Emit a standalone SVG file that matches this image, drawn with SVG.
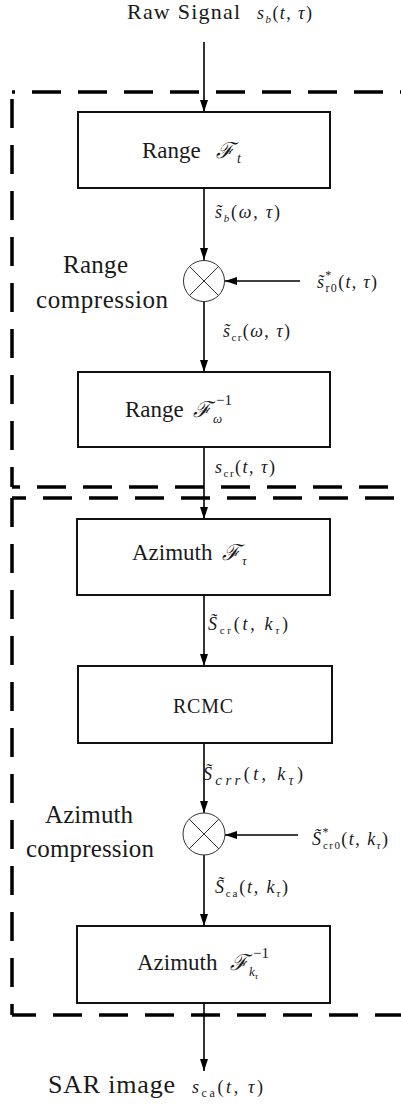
<svg xmlns="http://www.w3.org/2000/svg" width="401" height="1106" viewBox="0 0 401 1106">
<style>
.bg{fill:#fff}
.box{fill:#fff;stroke:#111;stroke-width:2}
.mul{fill:#fff;stroke:#333;stroke-width:1}
.x{stroke:#333;stroke-width:1}
.con{fill:none;stroke:#000;stroke-width:1.6}
.dash{fill:none;stroke:#000;stroke-width:3.5;stroke-dasharray:29 17}
text{font-family:'Liberation Serif',serif;fill:#1a1a1a}
.m{font-size:18px}
.i{font-style:italic}
.sc{font-family:'DejaVu Serif',serif;font-style:italic}
</style>
<defs>
<marker id="ah" markerUnits="userSpaceOnUse" markerWidth="13" markerHeight="9" refX="12" refY="4" orient="auto">
<path d="M0,0 L12,4 L0,8 z" fill="#000"/>
</marker>
</defs>
<rect class="bg" width="401" height="1106"/>

<g id="frames">
<line class="dash" x1="12" y1="92" x2="401" y2="92" stroke-dashoffset="26"/>
<line class="dash" x1="12" y1="487" x2="12" y2="92" stroke-dashoffset="9"/>
<line class="dash" x1="12" y1="487" x2="401" y2="487" stroke-dashoffset="21"/>
<line class="dash" x1="12" y1="498" x2="401" y2="498" stroke-dashoffset="15"/>
<line class="dash" x1="12" y1="498" x2="12" y2="1015" stroke-dashoffset="0"/>
<line class="dash" x1="12" y1="1015" x2="401" y2="1015" stroke-dashoffset="5"/>
</g>

<g id="connectors">
<line class="con" x1="204" y1="42" x2="204" y2="112" marker-end="url(#ah)"/>
<line class="con" x1="204" y1="188" x2="204" y2="260" marker-end="url(#ah)"/>
<line class="con" x1="300" y1="281" x2="225" y2="281" marker-end="url(#ah)"/>
<line class="con" x1="204" y1="301" x2="204" y2="372" marker-end="url(#ah)"/>
<line class="con" x1="204" y1="447" x2="204" y2="519" marker-end="url(#ah)"/>
<line class="con" x1="204" y1="595" x2="204" y2="666" marker-end="url(#ah)"/>
<line class="con" x1="204" y1="743" x2="204" y2="813" marker-end="url(#ah)"/>
<line class="con" x1="298" y1="835" x2="225" y2="835" marker-end="url(#ah)"/>
<line class="con" x1="204" y1="855" x2="204" y2="926" marker-end="url(#ah)"/>
<line class="con" x1="204" y1="1003" x2="204" y2="1071" marker-end="url(#ah)"/>
</g>

<g id="input">
<text x="127" y="19" font-size="22" textLength="113">Raw Signal</text>
<text class="m" x="257" y="19" textLength="55"><tspan class="i">s</tspan><tspan font-size="11" dy="4" class="i">b</tspan><tspan dy="-4">(</tspan><tspan class="i">t</tspan>, <tspan class="i">τ</tspan>)</text>
</g>

<g id="range-ft">
<rect class="box" x="78" y="112" width="252" height="76"/>
<text x="142" y="158" font-size="23">Range</text>
<text class="sc" x="216" y="158" font-size="22">ℱ</text>
<text class="i" x="237" y="163" font-size="14">t</text>
</g>
<text id="lbl-sb" class="m" x="215" y="218" textLength="65"><tspan class="i">s̃</tspan><tspan font-size="11" dy="4" class="i">b</tspan><tspan dy="-4">(</tspan><tspan class="i">ω</tspan>, <tspan class="i">τ</tspan>)</text>

<g id="range-mult">
<circle class="mul" cx="204" cy="281" r="20.5"/>
<line class="x" x1="189.5" y1="266.5" x2="218.5" y2="295.5"/>
<line class="x" x1="218.5" y1="266.5" x2="189.5" y2="295.5"/>
</g>
<text id="lbl-sr0" class="m" x="317" y="288" textLength="60"><tspan class="i">s̃</tspan><tspan font-size="12" dy="-9">*</tspan><tspan font-size="12" dx="-7" dy="13">r0</tspan><tspan dy="-4">(</tspan><tspan class="i">t</tspan>, <tspan class="i">τ</tspan>)</text>
<text id="lbl-rc" font-size="25"><tspan x="63" y="273" textLength="65">Range</tspan><tspan x="36" y="308" textLength="132">compression</tspan></text>
<text id="lbl-scr" class="m" x="223" y="337" textLength="67"><tspan class="i">s̃</tspan><tspan font-size="11" dy="4">cr</tspan><tspan dy="-4">(</tspan><tspan class="i">ω</tspan>, <tspan class="i">τ</tspan>)</text>

<g id="range-ifw">
<rect class="box" x="78" y="372" width="252" height="75"/>
<text x="125" y="417" font-size="23">Range</text>
<text class="sc" x="193" y="417" font-size="22">ℱ</text>
<text class="i" x="213" y="423" font-size="13">ω</text>
<text x="216" y="405" font-size="15">−1</text>
</g>
<text id="lbl-scr-t" class="m" x="215" y="473" textLength="60"><tspan class="i">s</tspan><tspan font-size="11" dy="4">cr</tspan><tspan dy="-4">(</tspan><tspan class="i">t</tspan>, <tspan class="i">τ</tspan>)</text>

<g id="azimuth-ft">
<rect class="box" x="77" y="519" width="253" height="76"/>
<text x="132" y="560" font-size="23">Azimuth</text>
<text class="sc" x="222" y="560" font-size="22">ℱ</text>
<text class="i" x="242" y="565" font-size="13">τ</text>
</g>
<text id="lbl-Scr" class="m" x="208" y="630" textLength="80"><tspan class="i">S̃</tspan><tspan font-size="11" dy="4">cr</tspan><tspan dy="-4">(</tspan><tspan class="i">t</tspan>, <tspan class="i">k</tspan><tspan font-size="11" dy="4" class="i">τ</tspan><tspan dy="-4">)</tspan></text>

<g id="rcmc">
<rect class="box" x="78" y="666" width="254" height="77"/>
<text x="173" y="713" font-size="20" textLength="60">RCMC</text>
</g>
<text id="lbl-Scrr" class="m" x="203" y="780" font-size="22" textLength="100"><tspan class="i">S̃</tspan><tspan font-size="15" dy="5" class="i">crr</tspan><tspan dy="-5">(</tspan><tspan class="i">t</tspan>, <tspan class="i">k</tspan><tspan font-size="14" dy="5" class="i">τ</tspan><tspan dy="-5">)</tspan></text>

<g id="azimuth-mult">
<circle class="mul" cx="204" cy="834" r="21"/>
<line class="x" x1="189.2" y1="819.2" x2="218.8" y2="848.8"/>
<line class="x" x1="218.8" y1="819.2" x2="189.2" y2="848.8"/>
</g>
<text id="lbl-Scr0" class="m" x="312" y="845" textLength="76"><tspan class="i">S̃</tspan><tspan font-size="12" dy="-9">*</tspan><tspan font-size="11" dx="-7" dy="13">cr0</tspan><tspan dy="-4">(</tspan><tspan class="i">t</tspan>, <tspan class="i">k</tspan><tspan font-size="11" dy="4" class="i">τ</tspan><tspan dy="-4">)</tspan></text>
<text id="lbl-ac" font-size="25"><tspan x="45" y="823" textLength="88">Azimuth</tspan><tspan x="26" y="857" textLength="128">compression</tspan></text>
<text id="lbl-Sca" class="m" x="215" y="893" textLength="73"><tspan class="i">S̃</tspan><tspan font-size="11" dy="4">ca</tspan><tspan dy="-4">(</tspan><tspan class="i">t</tspan>, <tspan class="i">k</tspan><tspan font-size="11" dy="4" class="i">τ</tspan><tspan dy="-4">)</tspan></text>

<g id="azimuth-ifk">
<rect class="box" x="77" y="926" width="253" height="77"/>
<text x="137" y="970" font-size="23">Azimuth</text>
<text class="sc" x="230" y="970" font-size="22">ℱ</text>
<text class="i" x="249" y="976" font-size="13">k<tspan font-size="9" dy="3">τ</tspan></text>
<text x="253" y="958" font-size="15">−1</text>
</g>

<g id="output">
<text x="48" y="1093" font-size="26" textLength="127">SAR image</text>
<text class="m" x="192" y="1093" font-size="20" textLength="71"><tspan class="i">s</tspan><tspan font-size="12" dy="4">ca</tspan><tspan dy="-4">(</tspan><tspan class="i">t</tspan>, <tspan class="i">τ</tspan>)</text>
</g>
</svg>
